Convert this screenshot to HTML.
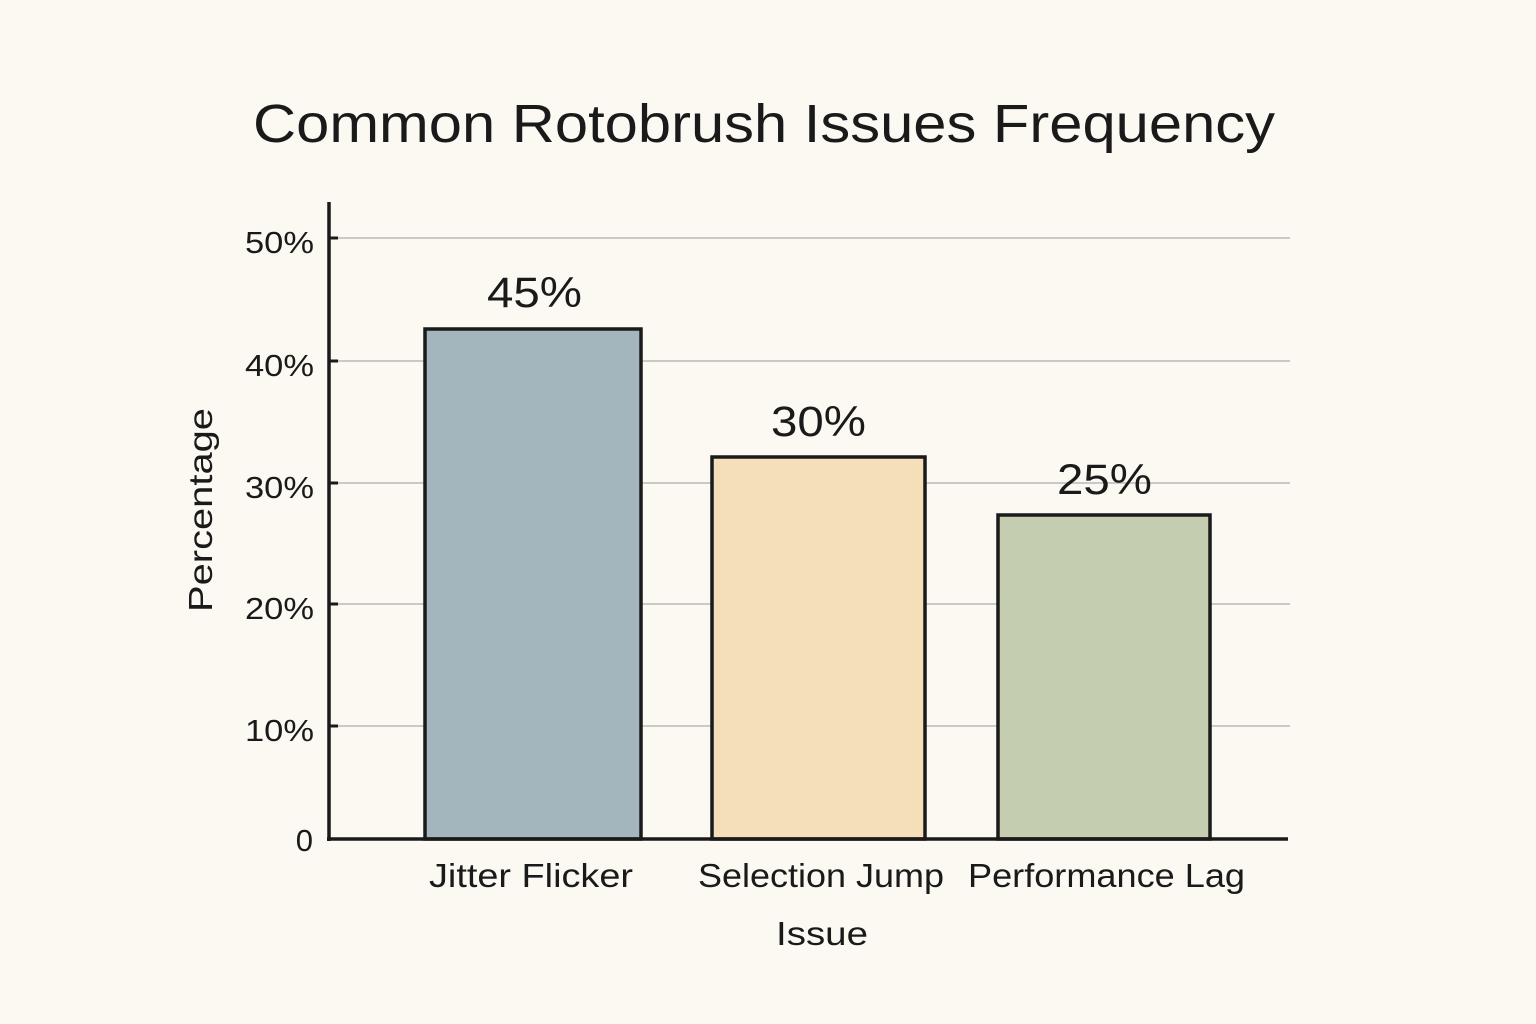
<!DOCTYPE html>
<html><head><meta charset="utf-8"><style>
html,body{margin:0;padding:0;background:#fcf9f3;}
svg{display:block;}
text{font-family:"Liberation Sans",sans-serif;fill:#1a1a1a;}
</style></head><body>
<svg width="1536" height="1024" viewBox="0 0 1536 1024">
<rect width="1536" height="1024" fill="#fcf9f3"/>
<text x="253" y="142" font-size="54" textLength="1022" lengthAdjust="spacingAndGlyphs">Common Rotobrush Issues Frequency</text>
<g stroke="#c9c9c6" stroke-width="2">
<line x1="338" y1="238" x2="1290" y2="238"/>
<line x1="338" y1="361" x2="1290" y2="361"/>
<line x1="338" y1="483" x2="1290" y2="483"/>
<line x1="338" y1="604" x2="1290" y2="604"/>
<line x1="338" y1="726" x2="1290" y2="726"/>
</g>
<g stroke="#1a1a1a" stroke-width="3">
<line x1="329" y1="238" x2="338" y2="238"/>
<line x1="329" y1="361" x2="338" y2="361"/>
<line x1="329" y1="483" x2="338" y2="483"/>
<line x1="329" y1="604" x2="338" y2="604"/>
<line x1="329" y1="726" x2="338" y2="726"/>
</g>
<g font-size="31" text-anchor="end">
<text x="314" y="253" textLength="69" lengthAdjust="spacingAndGlyphs">50%</text>
<text x="314" y="376" textLength="69" lengthAdjust="spacingAndGlyphs">40%</text>
<text x="314" y="498" textLength="69" lengthAdjust="spacingAndGlyphs">30%</text>
<text x="314" y="619" textLength="69" lengthAdjust="spacingAndGlyphs">20%</text>
<text x="314" y="741" textLength="69" lengthAdjust="spacingAndGlyphs">10%</text>
<text x="313" y="851">0</text>
</g>
<g stroke="#1a1a1a" stroke-width="3.5">
<rect x="425" y="329" width="216" height="510" fill="#a3b5bd"/>
<rect x="712" y="457" width="213" height="382" fill="#f5dfb8"/>
<rect x="998" y="515" width="212" height="324" fill="#c4cdb0"/>
</g>
<line x1="329" y1="202" x2="329" y2="841" stroke="#1a1a1a" stroke-width="3.5"/>
<line x1="327" y1="839" x2="1288" y2="839" stroke="#1a1a1a" stroke-width="3.5"/>
<g font-size="43">
<text x="487" y="307" textLength="95" lengthAdjust="spacingAndGlyphs">45%</text>
<text x="771" y="436" textLength="95" lengthAdjust="spacingAndGlyphs">30%</text>
<text x="1057" y="494" textLength="95" lengthAdjust="spacingAndGlyphs">25%</text>
</g>
<g font-size="33">
<text x="429" y="887" textLength="204" lengthAdjust="spacingAndGlyphs">Jitter Flicker</text>
<text x="698" y="887" textLength="246" lengthAdjust="spacingAndGlyphs">Selection Jump</text>
<text x="968" y="887" textLength="277" lengthAdjust="spacingAndGlyphs">Performance Lag</text>
<text x="776" y="945" textLength="92" lengthAdjust="spacingAndGlyphs">Issue</text>
</g>
<text x="0" y="0" font-size="33" text-anchor="middle" textLength="204" lengthAdjust="spacingAndGlyphs" transform="translate(212,510) rotate(-90)">Percentage</text>
</svg>
</body></html>
